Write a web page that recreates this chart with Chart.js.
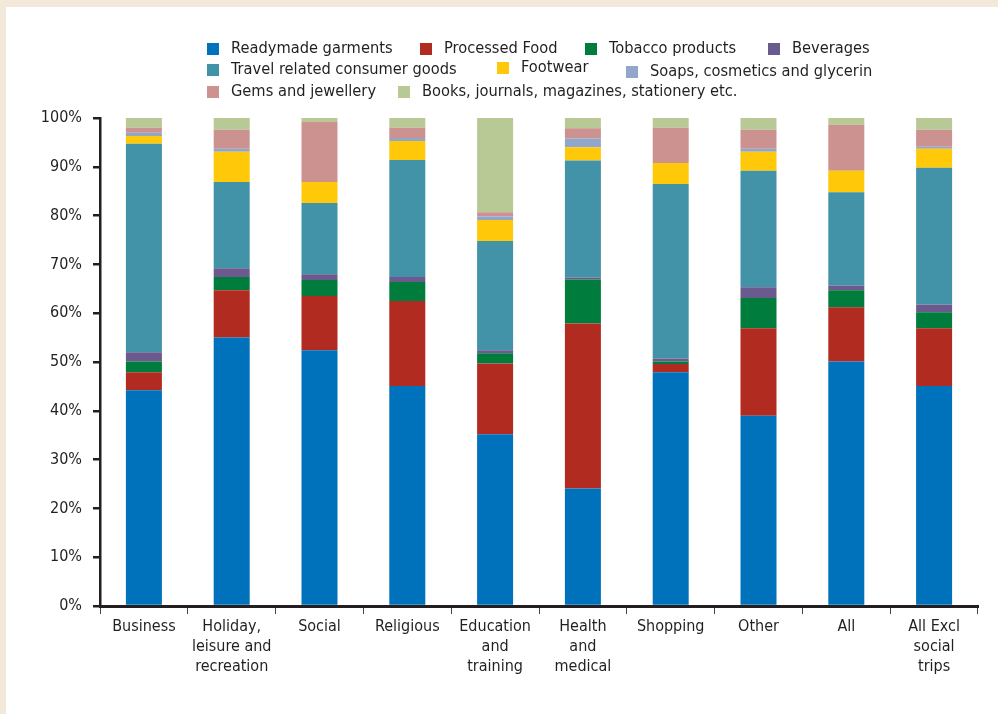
<!DOCTYPE html>
<html>
<head>
<meta charset="utf-8">
<script src="https://cdn.jsdelivr.net/npm/chart.js@4/dist/chart.umd.min.js"></script>
<style>
  body { margin: 0; background: #f3e9d9; font-family: "DejaVu Sans Condensed", "DejaVu Sans", sans-serif; }
  #panel { position: absolute; left: 6px; top: 7px; width: 992px; height: 707px; background: #fff; }
  #chart { position: absolute; left: 0; top: 0; }
  .lg { position: absolute; font-size: 16.3px; color: #231f20; white-space: nowrap; line-height: 16px; }
  .lg i { position: absolute; left: 0; top: 2px; width: 12px; height: 12px; }
  .lg span { position: absolute; left: 24px; top: -1px; }
</style>
</head>
<body>
<div id="panel"></div>
<canvas id="chart" width="998" height="714"></canvas>
<div id="legend"></div>
<script>
const categories = [
    "Business",
    ["Holiday,", "leisure and", "recreation"],
    "Social",
    "Religious",
    ["Education", "and", "training"],
    ["Health", "and", "medical"],
    "Shopping",
    "Other",
    "All",
    ["All Excl", "social", "trips"],
];

// shares of spend, per cent, stacked bottom to top
const readymade = [44.2, 55.0, 52.4, 45.1, 35.2, 24.1, 47.9, 39.0, 50.1, 45.1];
const processedFood = [3.7, 9.7, 11.1, 17.4, 14.5, 33.8, 1.7, 17.9, 11.1, 11.8];
const tobacco = [2.2, 2.7, 3.3, 3.9, 2.1, 9.0, 0.5, 6.2, 3.5, 3.3];
const beverages = [1.9, 1.8, 1.2, 1.0, 0.6, 0.4, 0.6, 2.2, 1.0, 1.6];
const travelGoods = [42.7, 17.7, 14.6, 24.0, 22.4, 24.0, 35.8, 23.9, 19.1, 28.0];
const footwear = [1.6, 6.2, 4.3, 3.9, 4.3, 2.7, 4.3, 3.9, 4.4, 3.9];
const soaps = [0.7, 0.6, 0, 0.6, 0.7, 1.8, 0, 0.6, 0, 0.4];
const gems = [1.0, 3.9, 12.3, 2.1, 0.9, 2.1, 7.2, 3.9, 9.4, 3.5];
const books = [2.0, 2.4, 0.8, 2.0, 19.3, 2.1, 2.0, 2.4, 1.4, 2.4];

const yTicks = [0, 10, 20, 30, 40, 50, 60, 70, 80, 90, 100];

const series = [
    { label: "Readymade garments", data: readymade, color: "#0071bb" },
    { label: "Processed Food", data: processedFood, color: "#b22b20" },
    { label: "Tobacco products", data: tobacco, color: "#007c3c" },
    { label: "Beverages", data: beverages, color: "#6b5a8d" },
    { label: "Travel related consumer goods", data: travelGoods, color: "#4293a8" },
    { label: "Footwear", data: footwear, color: "#ffc90a" },
    { label: "Soaps, cosmetics and glycerin", data: soaps, color: "#90a6cb" },
    { label: "Gems and jewellery", data: gems, color: "#cc9290" },
    { label: "Books, journals, magazines, stationery etc.", data: books, color: "#b8c996" },
];

// legend slots (left of swatch, top of row), same order as series
const legendSlots = [
    [207, 41], [420, 41], [585, 41], [768, 41],
    [207, 62], [497, 60], [626, 64],
    [207, 84], [398, 84],
];

const ink = "#231f20";
const font = { family: "'DejaVu Sans Condensed', 'DejaVu Sans', sans-serif", size: 16 };

const chart = new Chart(document.getElementById("chart"), {
    type: "bar",
    data: {
        labels: categories,
        datasets: series.map((s) => ({
            label: s.label,
            data: s.data,
            backgroundColor: s.color,
            borderWidth: 0,
            categoryPercentage: 1,
            barPercentage: 0.41,
        })),
    },
    options: {
        responsive: false,
        animation: false,
        devicePixelRatio: 1,
        layout: { padding: { top: 118, right: 20, left: 0, bottom: 0 } },
        plugins: { legend: { display: false }, tooltip: { enabled: false } },
        scales: {
            x: {
                stacked: true,
                afterFit: (scale) => { scale.height = 108; },
                grid: {
                    drawOnChartArea: false,
                    tickLength: 8,
                    color: "#444",
                    lineWidth: 1,
                },
                border: { color: ink, width: 3 },
                ticks: {
                    color: ink,
                    font: { ...font, lineHeight: 1.25 },
                    padding: 3,
                    maxRotation: 0,
                    autoSkip: false,
                },
            },
            y: {
                stacked: true,
                min: 0,
                max: 100,
                afterFit: (scale) => { scale.width = 100; },
                afterBuildTicks: (scale) => {
                    scale.ticks = yTicks.map((v) => ({ value: v }));
                },
                grid: {
                    drawOnChartArea: false,
                    tickLength: 7,
                    color: ink,
                    lineWidth: 2.5,
                },
                border: { color: ink, width: 2.5 },
                ticks: {
                    color: ink,
                    font: font,
                    padding: 11,
                    callback: (v) => v + "%",
                },
            },
        },
    },
});

// html legend built from the chart's datasets
const legend = document.getElementById("legend");
chart.data.datasets.forEach((ds, i) => {
    const item = document.createElement("div");
    item.className = "lg";
    item.style.left = legendSlots[i][0] + "px";
    item.style.top = legendSlots[i][1] + "px";
    item.innerHTML = `<i style="background:${ds.backgroundColor}"></i><span>${ds.label}</span>`;
    legend.appendChild(item);
});
</script>
</body>
</html>
